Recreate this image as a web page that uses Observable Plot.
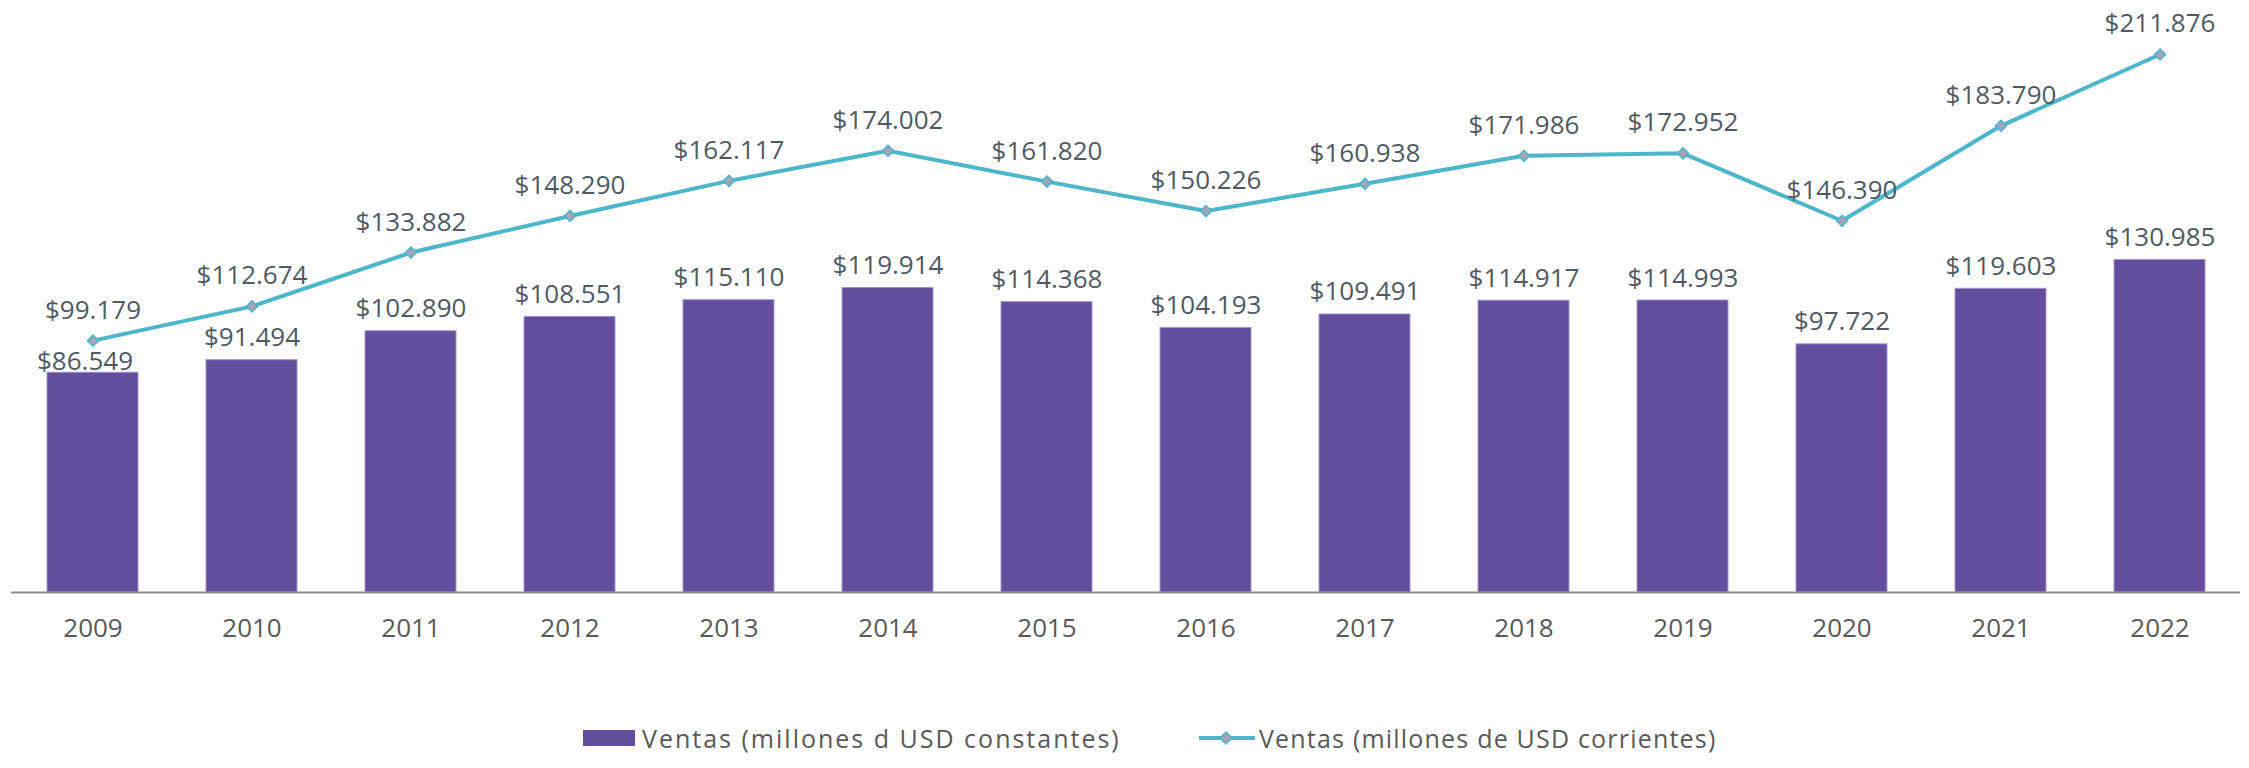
<!DOCTYPE html>
<html>
<head>
<meta charset="utf-8">
<script src="https://cdn.jsdelivr.net/npm/d3@7"></script>
<script src="https://cdn.jsdelivr.net/npm/@observablehq/plot@0.6"></script>
<style>
  html, body { margin: 0; padding: 0; background: #fff; overflow: hidden; }
  #chart svg { display: block; }
  #legend { position: relative; height: 68px; font-family: "Open Sans", sans-serif; font-size: 25px; color: #595959; }
  .item { position: absolute; top: 0; height: 68px; display: flex; align-items: center; }
  .item span { white-space: nowrap; }
</style>
</head>
<body>
<div id="chart"></div>
<div id="legend">
  <div class="item" style="left:583px; padding-top:4px;">
    <svg width="52" height="16" style="margin-right:7px"><rect x="0" y="0" width="52" height="16" fill="#634E9E"></rect></svg>
    <span style="letter-spacing:2px">Ventas (millones d USD constantes)</span>
  </div>
  <div class="item" style="left:1199px; padding-top:4px;">
    <svg width="56" height="16" style="margin-right:4px">
      <line x1="0" y1="8" x2="56" y2="8" stroke="#4DB6CB" stroke-width="4"></line>
      <path d="M27,2 L33,8 L27,14 L21,8 Z" fill="#A4A4B8" stroke="#4DB6CB" stroke-width="1.5"></path>
    </svg>
    <span style="letter-spacing:1.2px">Ventas (millones de USD corrientes)</span>
  </div>
</div>
<script>
const years = ["2009","2010","2011","2012","2013","2014","2015","2016","2017","2018","2019","2020","2021","2022"];
const constantes = [86549, 91494, 102890, 108551, 115110, 119914, 114368, 104193, 109491, 114917, 114993, 97722, 119603, 130985];
const corrientes = [99179, 112674, 133882, 148290, 162117, 174002, 161820, 150226, 160938, 171986, 172952, 146390, 183790, 211876];

const data = years.map((year, i) => ({year, constantes: constantes[i], corrientes: corrientes[i], i}));
const fmt = d3.formatLocale({decimal: ",", thousands: ".", grouping: [3], currency: ["$", ""]}).format("$,.0f");

const labelColor = "#4F5A65";
const chart = Plot.plot({
  width: 2249,
  height: 700,
  marginTop: 10,
  marginLeft: 11,
  marginRight: 9,
  marginBottom: 108,
  style: {fontFamily: "Open Sans, sans-serif", fontSize: "26px", background: "#fff"},
  x: {domain: years, paddingInner: 0.428, paddingOuter: 0.214, label: null},
  y: {domain: [0, 229200], axis: null},
  marks: [
    Plot.barY(data, {x: "year", y: "constantes", fill: "#634E9E", stroke: "#A196CC", strokeWidth: 1}),
    Plot.ruleY([0], {stroke: "#8C8C8C", strokeWidth: 2}),
    Plot.axisX({tickSize: 0, tickPadding: 26, fontSize: 26, fill: "#595959", label: null}),
    Plot.line(data, {x: "year", y: "corrientes", stroke: "#4DB6CB", strokeWidth: 4}),
    Plot.dot(data, {x: "year", y: "corrientes", symbol: "diamond2", r: 5, fill: "#A4A4B8", stroke: "#4DB6CB", strokeWidth: 1.5}),
    Plot.text(data.filter(d => d.i > 0), {x: "year", y: "constantes", text: d => fmt(d.constantes), lineAnchor: "bottom", dy: -14, fill: labelColor}),
    Plot.text(data.filter(d => d.i === 0), {x: "year", y: "constantes", text: d => fmt(d.constantes), lineAnchor: "bottom", dy: -3, dx: -8, fill: labelColor}),
    Plot.text(data, {x: "year", y: "corrientes", text: d => fmt(d.corrientes), lineAnchor: "bottom", dy: -22, fill: labelColor})
  ]
});
document.getElementById("chart").appendChild(chart);
</script>
</body>
</html>
